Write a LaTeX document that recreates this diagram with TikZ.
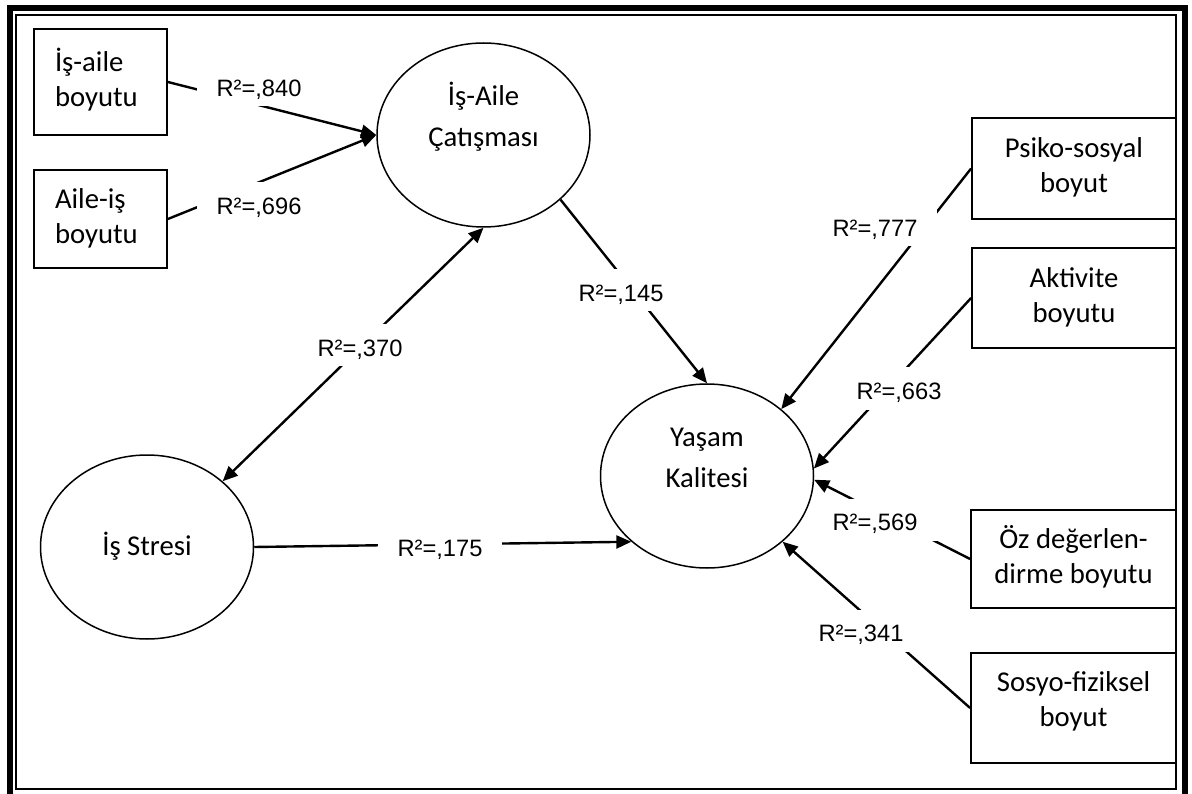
\documentclass[tikz,border=0pt]{standalone}
\usepackage{fontspec}
\setmainfont{Carlito}
\newfontfamily\arialfont{Liberation Sans}
\usetikzlibrary{shapes.geometric,arrows.meta}
\begin{document}
\begin{tikzpicture}[x=1pt,y=-1pt,
  box/.style={draw,line width=1.8pt,rectangle,inner sep=0pt,align=center,font=\fontsize{28.7}{35}\selectfont},
  lbox/.style={box,align=left,text width=91pt,inner xsep=21pt},
  lat/.style={draw,ellipse,line width=1.5pt,minimum width=213pt,minimum height=184pt,inner sep=0pt,align=center,font=\fontsize{28.7}{41}\selectfont},
  lab/.style={fill=white,inner xsep=20pt,inner ysep=5pt,text height=27pt,text depth=5pt,font=\arialfont\fontsize{23.7}{28}\selectfont},
  conn/.style={line width=2.4pt,-{Triangle[length=15pt,width=13pt]}},
  biconn/.style={line width=2.4pt,{Triangle[length=15pt,width=13pt]}-{Triangle[length=15pt,width=13pt]}},
  thickframe/.style={line width=6pt,line join=miter},
  thinframe/.style={line width=1.6pt}
]
\useasboundingbox (0,0) rectangle (1192,794);
% frame
\draw[thickframe] (10,800) -- (10,8) -- (1184.5,8) -- (1184.5,800);
\draw[thinframe] (16,15) rectangle (1176,789);

% indicator boxes (left)
\node[lbox,minimum width=133pt,minimum height=106pt] (ia) at (100.5,82) {\strut İş-aile\\\strut boyutu};
\node[lbox,minimum width=133pt,minimum height=98pt] (ai) at (100.5,219) {\strut Aile-iş\\\strut boyutu};

% latent variables
\node[lat,text depth=47pt] (iac) at (483.5,135) {\strut İş-Aile\\\strut Çatışması};
\node[lat] (st) at (147,547) {\strut İş Stresi};
\node[lat,text depth=47pt] (yk) at (707,476) {\strut Yaşam\\\strut Kalitesi};

% indicator boxes (right)
\node[box,minimum width=204pt,minimum height=101pt] (ps) at (1074,168.5) {\strut Psiko-sosyal\\\strut boyut};
\node[box,minimum width=204pt,minimum height=100pt] (ak) at (1074,298) {\strut Aktivite\\\strut boyutu};
\node[box,minimum width=205pt,minimum height=98pt] (oz) at (1073.5,559) {\strut Öz değerlen-\\\strut dirme boyutu};
\node[box,minimum width=205pt,minimum height=110pt,text depth=23.5pt] (so) at (1073.5,708) {\strut Sosyo-fiziksel\\\strut boyut};

% connectors
\draw[conn] (ia.east) -- (iac.west);
\draw[conn] (ai.east) -- (iac.west);
\draw[biconn] (st.41) -- (iac.south);
\draw[conn] (iac.-40) -- (yk.north);
\draw[conn] (st.east) -- (yk.221);
\draw[conn] (ps.west) -- (yk.42);
\draw[conn] (ak.west) -- (yk.4);
\draw[conn] (oz.west) -- (yk.-2);
\draw[conn] (so.west) -- (yk.-41);

% labels
\node[lab] (l840) at (259,85.5) {R²=,840};
\node[lab] (l696) at (259,203.5) {R²=,696};
\node[lab] (l145) at (621,290.5) {R²=,145};
\node[lab] (l370) at (360,345.5) {R²=,370};
\node[lab] (l175) at (440,545.5) {R²=,175};
\node[lab] (l777) at (875,225.5) {R²=,777};
\node[lab] (l663) at (899,388.5) {R²=,663};
\node[lab] (l569) at (875,519.5) {R²=,569};
\node[lab] (l341) at (861,630.5) {R²=,341};
\end{tikzpicture}
\end{document}
